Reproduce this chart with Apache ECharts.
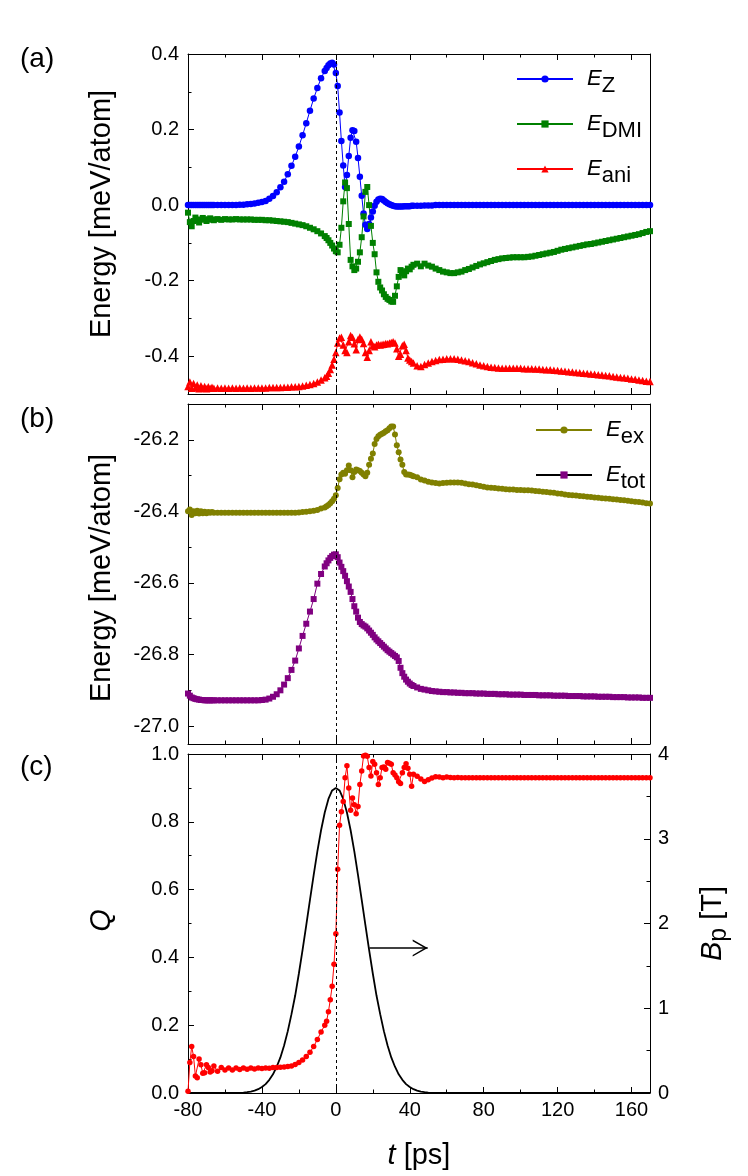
<!DOCTYPE html>
<html>
<head>
<meta charset="utf-8">
<title>Energy terms, Q and pulse field vs time</title>
<script src="https://cdn.jsdelivr.net/npm/echarts@6.0.0/dist/echarts.min.js"></script>
<style>
  html, body { margin: 0; padding: 0; background: #fff; }
  #main { width: 748px; height: 1176px; }
</style>
</head>
<body>
<div id="main"></div>
<script>
// time samples [ps]
var T = [
  -80, -79, -78, -77, -76, -75, -74, -73, -72, -71, -70, -69, -68, -67, -66,
  -64, -62, -60, -58, -56, -54, -52, -50, -48, -46, -44, -42, -40, -38, -36, -34, -32, -30, -28, -26,
  -24, -22, -20, -18, -16, -14, -12, -10, -8,
  -6, -5, -4, -3, -2, -1, 0, 1, 2, 3, 4, 5, 6, 7, 8, 9, 10, 11, 12, 13, 14, 15, 16, 17, 18, 19, 20,
  21, 22, 23, 24, 25, 26, 27, 28, 29, 30, 31, 32, 33, 34, 35, 36, 37, 38, 39, 40, 41, 42,
  44, 46, 48, 50, 52, 54, 56, 58, 60, 62, 64, 66, 68, 70, 72, 74, 76, 78, 80, 82,
  84, 86, 88, 90, 92, 94, 96, 98, 100, 102, 104, 106, 108, 110, 112, 114, 116, 118, 120, 122,
  124, 126, 128, 130, 132, 134, 136, 138, 140, 142, 144, 146, 148, 150, 152, 154, 156, 158, 160, 162,
  164, 166, 168, 170
];

// panel (a) [meV/atom]
var EZ = [
  0, 0, 0, 0, 0, 0, 0, 0, 0, 0, 0, 0, 0, 0, 0,
  0, 0, 0, 0, 0, 0, 0.001, 0.001, 0.002, 0.003, 0.004, 0.006, 0.008, 0.011, 0.017, 0.024, 0.034, 0.047, 0.062, 0.082,
  0.104, 0.128, 0.155, 0.185, 0.217, 0.25, 0.282, 0.31, 0.336,
  0.355, 0.363, 0.37, 0.375, 0.377, 0.372, 0.35, 0.315, 0.245, 0.17, 0.105, 0.048, 0.08, 0.13, 0.178, 0.198, 0.196, 0.168, 0.125, 0.075, 0.025, -0.022, -0.052, -0.063, -0.05, -0.033, -0.017,
  -0.002, 0.009, 0.015, 0.017, 0.016, 0.012, 0.008, 0.005, 0.002, 0, -0.002, -0.003, -0.004, -0.004, -0.004, -0.004, -0.003, -0.003, -0.003, -0.003, -0.002, -0.002,
  -0.002, -0.002, -0.001, -0.001, -0.001, 0, 0, 0, 0, 0, 0, 0, 0, 0, 0, 0, 0, 0, 0, 0,
  0, 0, 0, 0, 0, 0, 0, 0, 0, 0, 0, 0, 0, 0, 0, 0, 0, 0, 0, 0,
  0, 0, 0, 0, 0, 0, 0, 0, 0, 0, 0, 0, 0, 0, 0, 0, 0, 0, 0, 0,
  0, 0, 0, 0
];
var EDMI = [
  -0.02, -0.045, -0.056, -0.042, -0.033, -0.04, -0.046, -0.038, -0.034, -0.038, -0.042, -0.038, -0.035, -0.038, -0.04,
  -0.037, -0.039, -0.037, -0.038, -0.038, -0.037, -0.038, -0.038, -0.038, -0.038, -0.039, -0.039, -0.039, -0.04, -0.04, -0.041, -0.042, -0.043, -0.044, -0.045,
  -0.047, -0.049, -0.051, -0.053, -0.056, -0.06, -0.064, -0.069, -0.075,
  -0.082, -0.087, -0.093, -0.1, -0.107, -0.115, -0.122, -0.125, -0.105, -0.06, 0.01, 0.06, 0.045, -0.05, -0.145, -0.162, -0.172, -0.168, -0.15, -0.125, -0.085, -0.03, 0.035, 0.048, 0, -0.055, -0.1,
  -0.13, -0.178, -0.203, -0.218, -0.226, -0.236, -0.243, -0.248, -0.251, -0.255, -0.256, -0.24, -0.215, -0.19, -0.172, -0.18, -0.186, -0.175, -0.168, -0.17, -0.163, -0.158,
  -0.155, -0.162, -0.155, -0.16, -0.163, -0.168, -0.172, -0.176, -0.178, -0.18, -0.18, -0.178, -0.176, -0.172, -0.169, -0.165, -0.161, -0.157, -0.154, -0.151,
  -0.148, -0.145, -0.143, -0.141, -0.14, -0.139, -0.138, -0.138, -0.138, -0.138, -0.137, -0.136, -0.134, -0.132, -0.13, -0.128, -0.126, -0.124, -0.121, -0.118,
  -0.116, -0.114, -0.112, -0.11, -0.108, -0.106, -0.104, -0.103, -0.101, -0.099, -0.097, -0.095, -0.093, -0.091, -0.089, -0.087, -0.085, -0.083, -0.081, -0.079,
  -0.077, -0.074, -0.071, -0.069
];
var EANI = [
  -0.48, -0.468, -0.485, -0.472, -0.484, -0.476, -0.486, -0.478, -0.485, -0.48, -0.486, -0.481, -0.485, -0.482, -0.485,
  -0.484, -0.485, -0.484, -0.485, -0.484, -0.485, -0.484, -0.485, -0.484, -0.485, -0.484, -0.484, -0.484, -0.484, -0.483, -0.483, -0.483, -0.483, -0.482, -0.482,
  -0.481, -0.481, -0.48, -0.479, -0.477, -0.475, -0.472, -0.468, -0.463,
  -0.457, -0.453, -0.445, -0.435, -0.423, -0.408, -0.39, -0.365, -0.352, -0.35, -0.37, -0.385, -0.39, -0.362, -0.345, -0.35, -0.367, -0.383, -0.356, -0.349, -0.355, -0.366, -0.39, -0.403, -0.385, -0.362, -0.372,
  -0.375, -0.37, -0.368, -0.37, -0.369, -0.368, -0.366, -0.367, -0.365, -0.364, -0.362, -0.365, -0.38, -0.4, -0.395, -0.372, -0.368, -0.385, -0.405, -0.41, -0.414, -0.418,
  -0.425, -0.427, -0.422, -0.418, -0.414, -0.411, -0.409, -0.408, -0.407, -0.407, -0.407, -0.408, -0.41, -0.412, -0.414, -0.417, -0.42, -0.423, -0.425, -0.427,
  -0.429, -0.43, -0.431, -0.432, -0.432, -0.432, -0.432, -0.432, -0.432, -0.433, -0.433, -0.433, -0.434, -0.434, -0.435, -0.436, -0.436, -0.437, -0.438, -0.439,
  -0.44, -0.441, -0.442, -0.443, -0.444, -0.445, -0.446, -0.447, -0.448, -0.449, -0.45, -0.451, -0.452, -0.454, -0.455, -0.456, -0.457, -0.458, -0.46, -0.461,
  -0.463, -0.464, -0.466, -0.467
];

// panel (b) [meV/atom]
var EEX = [
  -26.4, -26.395, -26.41, -26.4, -26.405, -26.398, -26.406, -26.4, -26.405, -26.401, -26.405, -26.402, -26.404, -26.402, -26.404,
  -26.404, -26.404, -26.404, -26.404, -26.404, -26.404, -26.404, -26.404, -26.404, -26.404, -26.404, -26.404, -26.404, -26.404, -26.404, -26.404, -26.404, -26.404, -26.404, -26.404,
  -26.404, -26.404, -26.403, -26.402, -26.401, -26.4, -26.398, -26.396, -26.392,
  -26.389, -26.386, -26.382, -26.377, -26.372, -26.365, -26.355, -26.335, -26.31, -26.297, -26.292, -26.295, -26.285, -26.272, -26.285, -26.305, -26.29, -26.283, -26.285, -26.287, -26.292, -26.297, -26.302, -26.292, -26.27, -26.253, -26.238,
  -26.212, -26.198, -26.19, -26.186, -26.183, -26.18, -26.176, -26.173, -26.168, -26.163, -26.163, -26.185, -26.215, -26.235, -26.255, -26.27, -26.29, -26.297, -26.297, -26.298, -26.3, -26.302,
  -26.305, -26.311, -26.314, -26.317, -26.319, -26.321, -26.322, -26.321, -26.32, -26.319, -26.319, -26.319, -26.32, -26.322, -26.324, -26.325, -26.327, -26.329, -26.331, -26.333,
  -26.334, -26.335, -26.336, -26.337, -26.338, -26.339, -26.339, -26.34, -26.34, -26.341, -26.341, -26.342, -26.343, -26.344, -26.345, -26.346, -26.347, -26.348, -26.35, -26.351,
  -26.353, -26.354, -26.355, -26.356, -26.357, -26.358, -26.359, -26.36, -26.361, -26.362, -26.363, -26.364, -26.365, -26.366, -26.367, -26.368, -26.369, -26.37, -26.372, -26.373,
  -26.374, -26.375, -26.377, -26.378
];
var ETOT = [
  -26.909, -26.915, -26.92, -26.922, -26.924, -26.925, -26.926, -26.927, -26.927, -26.928, -26.928, -26.928, -26.928, -26.928, -26.928,
  -26.928, -26.928, -26.928, -26.928, -26.928, -26.928, -26.928, -26.928, -26.928, -26.928, -26.928, -26.928, -26.927, -26.926, -26.923, -26.918, -26.911, -26.9, -26.884, -26.866,
  -26.843, -26.817, -26.783, -26.748, -26.714, -26.68, -26.645, -26.602, -26.575,
  -26.554, -26.545, -26.537, -26.53, -26.525, -26.521, -26.52, -26.528, -26.543, -26.555, -26.567, -26.58, -26.595, -26.61, -26.625, -26.645, -26.665, -26.68, -26.697, -26.709, -26.715, -26.719, -26.722, -26.727, -26.733, -26.739, -26.745,
  -26.752, -26.758, -26.763, -26.768, -26.773, -26.778, -26.783, -26.788, -26.792, -26.796, -26.8, -26.804, -26.808, -26.818, -26.837, -26.852, -26.862, -26.87, -26.876, -26.881, -26.885, -26.888,
  -26.892, -26.896, -26.898, -26.9, -26.902, -26.903, -26.904, -26.905, -26.905, -26.906, -26.906, -26.907, -26.907, -26.908, -26.908, -26.908, -26.909, -26.909, -26.909, -26.91,
  -26.91, -26.91, -26.911, -26.911, -26.911, -26.912, -26.912, -26.912, -26.912, -26.913, -26.913, -26.913, -26.913, -26.914, -26.914, -26.914, -26.914, -26.915, -26.915, -26.915,
  -26.915, -26.916, -26.916, -26.916, -26.916, -26.917, -26.917, -26.917, -26.917, -26.918, -26.918, -26.918, -26.918, -26.919, -26.919, -26.919, -26.919, -26.92, -26.92, -26.92,
  -26.92, -26.921, -26.921, -26.921
];

// panel (c): topological charge
var Q = [
  0.005, 0.09, 0.137, 0.108, 0.05, 0.045, 0.1, 0.083, 0.058, 0.06, 0.083, 0.075, 0.062, 0.066, 0.08,
  0.064, 0.075, 0.068, 0.074, 0.068, 0.074, 0.069, 0.074, 0.07, 0.074, 0.071, 0.074, 0.072, 0.074, 0.073, 0.075, 0.075, 0.076, 0.077, 0.078,
  0.08, 0.084, 0.09, 0.097, 0.108, 0.12, 0.137, 0.158, 0.18,
  0.2, 0.212, 0.24, 0.275, 0.315, 0.38, 0.47, 0.66, 0.79, 0.83, 0.86, 0.93, 0.965, 0.9, 0.834, 0.87, 0.85, 0.824, 0.845, 0.91, 0.95, 0.994, 0.996, 0.993, 0.96, 0.935, 0.978,
  0.97, 0.945, 0.91, 0.93, 0.96, 0.962, 0.955, 0.975, 0.973, 0.97, 0.945, 0.938, 0.93, 0.918, 0.913, 0.945, 0.96, 0.971, 0.958, 0.94, 0.905, 0.94,
  0.934, 0.926, 0.919, 0.924, 0.929, 0.933, 0.932, 0.93, 0.932, 0.931, 0.93, 0.931, 0.93, 0.93, 0.93, 0.93, 0.93, 0.93, 0.93, 0.93,
  0.93, 0.93, 0.93, 0.93, 0.93, 0.93, 0.93, 0.93, 0.93, 0.93, 0.93, 0.93, 0.93, 0.93, 0.93, 0.93, 0.93, 0.93, 0.93, 0.93,
  0.93, 0.93, 0.93, 0.93, 0.93, 0.93, 0.93, 0.93, 0.93, 0.93, 0.93, 0.93, 0.93, 0.93, 0.93, 0.93, 0.93, 0.93, 0.93, 0.93,
  0.93, 0.93, 0.93, 0.93
];

// panel (c): pulse field [T]
var BT = [
  -80, -50, -48, -46, -44, -42, -40, -38, -36, -34, -32, -30, -28, -26, -24, -22, -20, -18, -16, -14, -12, -10, -8, -6, -4, -2,
  0, 2, 4, 6, 8, 10, 12, 14, 16, 18, 20, 22, 24, 26, 28, 30, 32, 34, 36, 38, 40, 42, 44, 46, 48, 50, 170
];
var BP = [
  0, 0.005, 0.01, 0.017, 0.028, 0.045, 0.07, 0.105, 0.155, 0.22, 0.31, 0.42, 0.56, 0.73, 0.93, 1.15, 1.41, 1.69, 1.98, 2.28, 2.57, 2.85, 3.1, 3.31, 3.47, 3.57,
  3.6, 3.57, 3.47, 3.31, 3.1, 2.85, 2.57, 2.28, 1.98, 1.69, 1.41, 1.15, 0.93, 0.73, 0.56, 0.42, 0.31, 0.22, 0.155, 0.105, 0.07, 0.045, 0.028, 0.017, 0.01, 0.005, 0
];

// tick positions
var X_MAJOR = [-80, -40, 0, 40, 80, 120, 160];
var X_MINOR = [-60, -20, 20, 60, 100, 140];
var YA_MAJOR = [-0.4, -0.2, 0, 0.2, 0.4];
var YA_MINOR = [-0.3, -0.1, 0.1, 0.3];
var YB_MAJOR = [-27, -26.8, -26.6, -26.4, -26.2];
var YB_MINOR = [-26.9, -26.7, -26.5, -26.3];

var FONT = '"Liberation Sans", Arial, sans-serif';
var BLACK = '#000';

function pairs(xs, ys) {
  return xs.map(function (x, i) { return [x, ys[i]]; });
}

function xAxes(grid, pos, withLabels) {
  var major = {
    type: 'value', gridIndex: grid, position: pos, min: -80, max: 170,
    axisLine: { show: true, onZero: false, lineStyle: { color: BLACK, width: 1 } },
    axisTick: { show: true, inside: true, length: 6, customValues: X_MAJOR, lineStyle: { color: BLACK } },
    axisLabel: { show: withLabels, customValues: X_MAJOR, margin: 7, fontSize: 20, fontFamily: FONT, color: BLACK },
    splitLine: { show: false }
  };
  var minor = {
    type: 'value', gridIndex: grid, position: pos, min: -80, max: 170,
    axisLine: { show: false, onZero: false },
    axisTick: { show: true, inside: true, length: 3.5, customValues: X_MINOR, lineStyle: { color: BLACK } },
    axisLabel: { show: false },
    splitLine: { show: false }
  };
  return [major, minor];
}

function energyAxes(grid, min, max, majors, minors, namePad) {
  var left = {
    type: 'value', gridIndex: grid, position: 'left', min: min, max: max,
    name: 'Energy [meV/atom]', nameLocation: 'middle', nameGap: 72,
    nameTextStyle: { fontSize: 29, fontFamily: FONT, color: BLACK, padding: namePad },
    axisLine: { show: true, onZero: false, lineStyle: { color: BLACK, width: 1 } },
    axisTick: { show: true, inside: true, length: 6, customValues: majors, lineStyle: { color: BLACK } },
    axisLabel: {
      customValues: majors, margin: 9, fontSize: 20, fontFamily: FONT, color: BLACK,
      formatter: function (v) { return v.toFixed(1); }
    },
    splitLine: { show: false }
  };
  var leftMinor = {
    type: 'value', gridIndex: grid, position: 'left', min: min, max: max,
    axisLine: { show: false, onZero: false },
    axisTick: { show: true, inside: true, length: 3.5, customValues: minors, lineStyle: { color: BLACK } },
    axisLabel: { show: false },
    splitLine: { show: false }
  };
  var right = {
    type: 'value', gridIndex: grid, position: 'right', min: min, max: max,
    axisLine: { show: true, onZero: false, lineStyle: { color: BLACK, width: 1 } },
    axisTick: { show: false }, axisLabel: { show: false }, splitLine: { show: false }
  };
  return [left, leftMinor, right];
}

function zeroLine() {
  return {
    silent: true, symbol: 'none', animation: false,
    label: { show: false },
    lineStyle: { color: BLACK, width: 1, type: [3, 3] },
    data: [{ xAxis: 0 }]
  };
}

var LEGEND_TEXT = {
  EZ: '{e|E}{s|Z}', EDMI: '{e|E}{s|DMI}', Eani: '{e|E}{s|ani}',
  Eex: '{e|E}{s|ex}', Etot: '{e|E}{s|tot}'
};
var LEGEND_RICH = {
  e: { fontFamily: FONT, fontSize: 22, fontStyle: 'italic', color: BLACK, lineHeight: 26, padding: [0, 0, 0, 9] },
  s: { fontFamily: FONT, fontSize: 22, color: BLACK, lineHeight: 10, verticalAlign: 'top', padding: [9, 0, 0, 0] }
};

var ARROW = 'path://M8.5,-15L8.51,-15L8.5,-14.99Z M8.5,0L17,15L15.3,15L8.5,3L1.7,15L0,15Z';

var xs = [].concat(
  xAxes(0, 'bottom', false), xAxes(0, 'top', false),
  xAxes(1, 'bottom', false), xAxes(1, 'top', false),
  xAxes(2, 'bottom', true), xAxes(2, 'top', false)
);
xs[8].name = '{i|t}{n| [ps]}';
xs[8].nameLocation = 'middle';
xs[8].nameGap = 48;
xs[8].nameTextStyle = {
  rich: {
    i: { fontFamily: FONT, fontSize: 29, fontStyle: 'italic', color: BLACK },
    n: { fontFamily: FONT, fontSize: 29, color: BLACK }
  }
};

var ys = [].concat(
  energyAxes(0, -0.5, 0.4, YA_MAJOR, YA_MINOR, [0, 0, 0, 20]),
  energyAxes(1, -27.05, -26.1, YB_MAJOR, YB_MINOR, [0, 8, 0, 0]),
  [
    {
      type: 'value', gridIndex: 2, position: 'left', min: 0, max: 1, interval: 0.2,
      name: 'Q', nameLocation: 'middle', nameGap: 72,
      nameTextStyle: { fontSize: 29, fontFamily: FONT, fontStyle: 'italic', color: BLACK, padding: [0, 0, 0, 6] },
      axisLine: { show: true, onZero: false, lineStyle: { color: BLACK, width: 1 } },
      axisTick: { show: true, inside: true, length: 6, lineStyle: { color: BLACK } },
      minorTick: { show: true, splitNumber: 2, length: 3.5, lineStyle: { color: BLACK } },
      axisLabel: {
        margin: 9, fontSize: 20, fontFamily: FONT, color: BLACK,
        formatter: function (v) { return v.toFixed(1); }
      },
      splitLine: { show: false }, minorSplitLine: { show: false }
    },
    {
      type: 'value', gridIndex: 2, position: 'right', min: 0, max: 4, interval: 1,
      name: '{b|B}{s|p}{n| [T]}', nameLocation: 'middle', nameGap: 46, nameRotate: 90,
      nameTextStyle: {
        rich: {
          b: { fontFamily: FONT, fontSize: 29, fontStyle: 'italic', color: BLACK, lineHeight: 34 },
          s: { fontFamily: FONT, fontSize: 25, color: BLACK, lineHeight: 10, verticalAlign: 'top', padding: [11, 0, 0, 0] },
          n: { fontFamily: FONT, fontSize: 29, color: BLACK, lineHeight: 34 }
        }
      },
      axisLine: { show: true, onZero: false, lineStyle: { color: BLACK, width: 1 } },
      axisTick: { show: true, inside: true, length: 6, lineStyle: { color: BLACK } },
      minorTick: { show: true, splitNumber: 2, length: 3.5, lineStyle: { color: BLACK } },
      axisLabel: { margin: 8, fontSize: 20, fontFamily: FONT, color: BLACK },
      splitLine: { show: false }, minorSplitLine: { show: false }
    }
  ]
);

var chart = echarts.init(document.getElementById('main'));
var option = {
  backgroundColor: '#fff',
  animation: false,
  grid: [
    { left: 188, right: 98, top: 54, height: 340 },
    { left: 188, right: 98, top: 404, height: 340 },
    { left: 188, right: 98, top: 754, height: 339 }
  ],
  xAxis: xs,
  yAxis: ys,
  legend: [
    {
      data: ['EZ', 'EDMI', 'Eani'], orient: 'vertical', left: 511, top: 61,
      itemWidth: 56, itemHeight: 9, itemGap: 14, selectedMode: false,
      formatter: function (n) { return LEGEND_TEXT[n]; },
      textStyle: { rich: LEGEND_RICH }
    },
    {
      data: ['Eex', { name: 'Etot', lineStyle: { color: BLACK } }], orient: 'vertical', left: 530, top: 412,
      itemWidth: 56, itemHeight: 9, itemGap: 14, selectedMode: false,
      formatter: function (n) { return LEGEND_TEXT[n]; },
      textStyle: { rich: LEGEND_RICH }
    }
  ],
  graphic: [
    { type: 'text', left: 20, top: 45, style: { text: '(a)', font: '28px ' + FONT, fill: BLACK } },
    { type: 'text', left: 20, top: 405, style: { text: '(b)', font: '28px ' + FONT, fill: BLACK } },
    { type: 'text', left: 20, top: 753, style: { text: '(c)', font: '28px ' + FONT, fill: BLACK } }
  ],
  series: [
    {
      name: 'EZ', type: 'line', xAxisIndex: 0, yAxisIndex: 0, data: pairs(T, EZ),
      symbol: 'circle', symbolSize: 6.5, showAllSymbol: true, color: '#0000ff',
      lineStyle: { width: 1 }, markLine: zeroLine()
    },
    {
      name: 'EDMI', type: 'line', xAxisIndex: 0, yAxisIndex: 0, data: pairs(T, EDMI),
      symbol: 'rect', symbolSize: 6, showAllSymbol: true, color: '#008000',
      lineStyle: { width: 1 }
    },
    {
      name: 'Eani', type: 'line', xAxisIndex: 0, yAxisIndex: 0, data: pairs(T, EANI),
      symbol: 'triangle', symbolSize: 7.5, showAllSymbol: true, color: '#ff0000',
      lineStyle: { width: 1 }
    },
    {
      name: 'Eex', type: 'line', xAxisIndex: 4, yAxisIndex: 3, data: pairs(T, EEX),
      symbol: 'circle', symbolSize: 6, showAllSymbol: true, color: '#808000',
      lineStyle: { width: 1 }, markLine: zeroLine()
    },
    {
      name: 'Etot', type: 'line', xAxisIndex: 4, yAxisIndex: 3, data: pairs(T, ETOT),
      symbol: 'rect', symbolSize: 6, showAllSymbol: true, color: '#800080',
      lineStyle: { width: 1 }
    },
    {
      name: 'Bp', type: 'line', xAxisIndex: 8, yAxisIndex: 7, data: pairs(BT, BP),
      showSymbol: false, symbol: 'none', color: BLACK, lineStyle: { width: 1.8 },
      markLine: {
        silent: true, animation: false, symbol: ['none', ARROW], symbolSize: [17, 30],
        label: { show: false },
        lineStyle: { color: BLACK, width: 1.6, type: 'solid' },
        data: [[{ coord: [18.2, 1.71] }, { coord: [49.7, 1.71] }]]
      }
    },
    {
      name: 'Q', type: 'line', xAxisIndex: 8, yAxisIndex: 6, data: pairs(T, Q),
      symbol: 'circle', symbolSize: 5.5, showAllSymbol: true, color: '#ff0000',
      lineStyle: { width: 1 }, markLine: zeroLine()
    }
  ]
};
chart.setOption(option);
</script>
</body>
</html>
